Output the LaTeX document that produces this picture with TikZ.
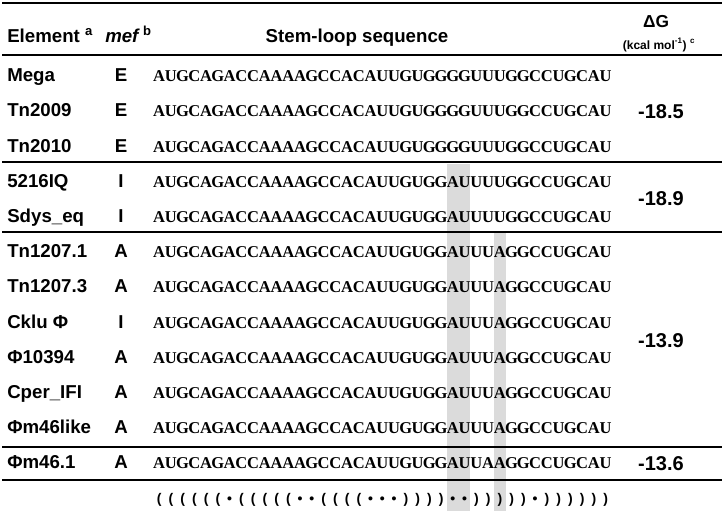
\documentclass[tikz,border=0pt]{standalone}
\usepackage{fontspec}
\setmainfont{Liberation Sans}
\newfontfamily\seqfont{Liberation Serif}
% one fixed-width cell per base
\newcommand\dbcell[1]{\makebox[8.8125pt]{#1}}
\def\dbrun#1{\ifx#1\relax\else\dbcell{#1}\expandafter\dbrun\fi}
\begin{document}
\begin{tikzpicture}[x=0.75pt,y=-0.75pt,
    rowlbl/.style={anchor=base west,inner sep=0pt,font=\bfseries\fontsize{14}{16}\selectfont},
    meflbl/.style={anchor=base,inner sep=0pt,font=\bfseries\fontsize{14}{16}\selectfont},
    seqtxt/.style={anchor=base west,inner sep=0pt,font=\seqfont\bfseries\fontsize{12.4}{14}\selectfont},
    foldtxt/.style={anchor=base west,inner sep=0pt,font=\bfseries\fontsize{10.5}{12}\selectfont},
    dgval/.style={anchor=base,inner sep=0pt,font=\bfseries\fontsize{15}{17}\selectfont},
    rule/.style={line width=1.5pt}]
  \useasboundingbox (0,0) rectangle (724,511);
  % shaded columns
  \fill[black!14] (446.75,164) rectangle (470.25,511);
  \fill[black!14] (493.75,233) rectangle (505.5,511);
  % header
  \node[rowlbl] (hElem) at (7,42) {Element \textsuperscript{a}};
  \node[rowlbl] (hMef) at (105,42) {\textit{mef}\,\textsuperscript{b}};
  \node[anchor=base,inner sep=0pt,font=\bfseries\fontsize{14}{16}\selectfont] (hSeq) at (357,42) {Stem-loop sequence};
  \node[anchor=base,inner sep=0pt,font=\bfseries\fontsize{13}{15}\selectfont] (hDG) at (656,27) {ΔG};
  \node[anchor=base,inner sep=0pt,font=\bfseries\fontsize{9}{11}\selectfont] (hUnit) at (659,49) {(kcal mol\textsuperscript{-1}) \textsuperscript{c}};
  % rules
  \draw[line width=1.8pt] (2,3) -- (722,3);
  \foreach \y in {55,162,232,447,480}
  { \draw[rule] (2,\y) -- (722,\y); }
  % rows
  \foreach \nm/\mf/\sq [count=\i from 0] in {
      Mega/E/AUGCAGACCAAAAGCCACAUUGUGGGGUUUGGCCUGCAU,
      Tn2009/E/AUGCAGACCAAAAGCCACAUUGUGGGGUUUGGCCUGCAU,
      Tn2010/E/AUGCAGACCAAAAGCCACAUUGUGGGGUUUGGCCUGCAU,
      5216IQ/I/AUGCAGACCAAAAGCCACAUUGUGGAUUUUGGCCUGCAU,
      Sdys\_eq/I/AUGCAGACCAAAAGCCACAUUGUGGAUUUUGGCCUGCAU,
      Tn1207.1/A/AUGCAGACCAAAAGCCACAUUGUGGAUUUAGGCCUGCAU,
      Tn1207.3/A/AUGCAGACCAAAAGCCACAUUGUGGAUUUAGGCCUGCAU,
      Cklu Φ/I/AUGCAGACCAAAAGCCACAUUGUGGAUUUAGGCCUGCAU,
      Φ10394/A/AUGCAGACCAAAAGCCACAUUGUGGAUUUAGGCCUGCAU,
      Cper\_IFI/A/AUGCAGACCAAAAGCCACAUUGUGGAUUUAGGCCUGCAU,
      Φm46like/A/AUGCAGACCAAAAGCCACAUUGUGGAUUUAGGCCUGCAU,
      Φm46.1/A/AUGCAGACCAAAAGCCACAUUGUGGAUUAAGGCCUGCAU}
  { \node[rowlbl] (lbl\i) at (7,81.7+35.2*\i) {\nm};
    \node[meflbl] (mef\i) at (121,81.7+35.2*\i) {\mf};
    \node[seqtxt] (seq\i) at (153,81.7+35.2*\i) {\expandafter\dbrun\sq\relax}; }
  % free energies
  \node[dgval] (dgA) at (661,118) {-18.5};
  \node[dgval] (dgB) at (661,205) {-18.9};
  \node[dgval] (dgC) at (661,347) {-13.9};
  \node[dgval] (dgD) at (661,470) {-13.6};
  % fold
  \node[foldtxt] (fold) at (153,503) {\dbrun((((((•(((((••((((•••))))••)))))•))))))\relax};
\end{tikzpicture}
\end{document}
